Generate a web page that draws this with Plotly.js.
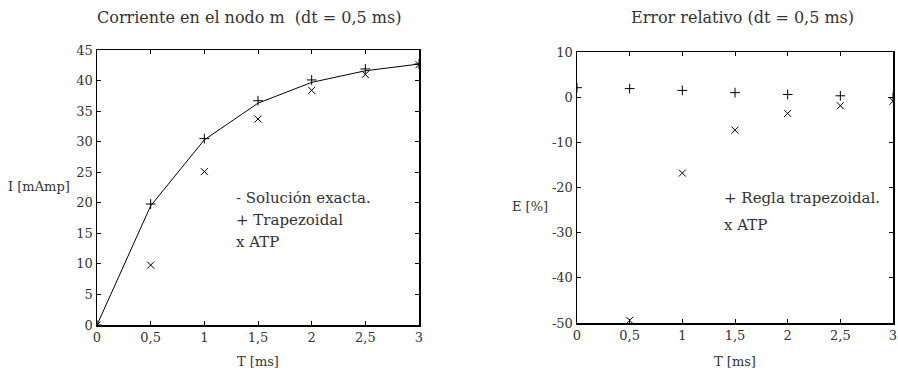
<!DOCTYPE html>
<html><head><meta charset="utf-8">
<script src="https://cdn.plot.ly/plotly-3.0.1.min.js"></script>
<style>body{margin:0;background:#fff}#p{width:898px;height:370px}</style>
</head><body><div id="p"></div>
<script>
// Data
const tExact = [0, 0.5, 1, 1.5, 2, 2.5, 3];
const iExact = [0, 19.5, 30.3, 36.3, 39.7, 41.6, 42.7];
const tTrap = [0, 0.5, 1, 1.5, 2, 2.5, 3];
const iTrap = [0, 19.8, 30.5, 36.7, 40.1, 41.9, 42.7];
const tATP = [0, 0.5, 1, 1.5, 2, 2.5, 3];
const iATP = [0, 9.8, 25.1, 33.7, 38.4, 41.0, 42.6];
const tErrTrap = [0, 0.5, 1, 1.5, 2, 2.5, 3];
const eTrap = [2.1, 1.9, 1.5, 1.0, 0.6, 0.3, -0.1];
const tErrATP = [0.5, 1, 1.5, 2, 2.5, 3];
const eATP = [-49.4, -16.8, -7.3, -3.6, -1.9, -0.9];
const xTickVals = [0, 0.5, 1, 1.5, 2, 2.5, 3];
const xTickText = ['0', '0,5', '1', '1,5', '2', '2,5', '3'];
const yLeftTicks = [0, 5, 10, 15, 20, 25, 30, 35, 40, 45];
const yRightTicks = [10, 0, -10, -20, -30, -40, -50];
const yRightText = ['10', '0', '-10', '-20', '-30', '-40', '-50'];
const legendLeft = ['- Solución exacta.', '+ Trapezoidal', 'x ATP'];
const legendRight = ['+ Regla trapezoidal.', 'x ATP'];

const F = 'DejaVu Serif';
const mk = (sym) => ({symbol: sym, size: 7, color: 'rgba(0,0,0,0)', line: {color: '#000', width: 1}});
const traces = [
  {x: tExact, y: iExact, mode: 'lines', line: {color: '#000', width: 1}, xaxis: 'x', yaxis: 'y'},
  {x: tTrap, y: iTrap, mode: 'markers', marker: mk('cross-thin'), xaxis: 'x', yaxis: 'y'},
  {x: tATP, y: iATP, mode: 'markers', marker: mk('x-thin'), xaxis: 'x', yaxis: 'y'},
  {x: tErrTrap, y: eTrap, mode: 'markers', marker: mk('cross-thin'), xaxis: 'x2', yaxis: 'y2'},
  {x: tErrATP, y: eATP, mode: 'markers', marker: mk('x-thin'), xaxis: 'x2', yaxis: 'y2'}
];
const ax = {
  showgrid: false, zeroline: false, showline: true, linecolor: '#000', linewidth: 1.5,
  mirror: 'ticks', ticks: 'inside', ticklen: 4, tickcolor: '#000', tickwidth: 1,
  tickfont: {family: F, size: 13, color: '#333'}, fixedrange: true
};
const W = 898, H = 370;
const ann = (text, px, py, size, extra) => Object.assign({text, x: px/W, y: 1-py/H, xref: 'paper', yref: 'paper', xanchor: 'center', yanchor: 'middle', showarrow: false, font: {size, family: F, color: '#333'}}, extra || {});
const L = {xanchor: 'left', align: 'left'};
const annotations = [
  ann('Corriente en el nodo m  (dt = 0,5 ms)', 249, 18, 16),
  ann('Error relativo (dt = 0,5 ms)', 742, 18, 16),
  ann('T [ms]', 258, 361, 13),
  ann('T [ms]', 735, 361, 13),
  ann('I [mAmp]', 39, 187, 13),
  ann('E [%]', 530, 207, 13)
];
const leftY = [198, 220, 242], rightY = [198, 225];
legendLeft.forEach((t, i) => annotations.push(ann(t, 234, leftY[i], 15, L)));
legendRight.forEach((t, i) => annotations.push(ann(t, 722, rightY[i], 15, L)));
const layout = {
  width: W, height: H, margin: {l: 0, r: 0, t: 0, b: 0},
  paper_bgcolor: '#fff', plot_bgcolor: '#fff', showlegend: false,
  font: {family: F, color: '#333'},
  xaxis: Object.assign({}, ax, {domain: [97/W, 419/W], range: [0, 3], tickvals: xTickVals, ticktext: xTickText, anchor: 'y'}),
  yaxis: Object.assign({}, ax, {domain: [1-325/H, 1-50/H], range: [0, 45], tickvals: yLeftTicks, anchor: 'x'}),
  xaxis2: Object.assign({}, ax, {domain: [577/W, 893/W], range: [0, 3], tickvals: xTickVals, ticktext: xTickText, anchor: 'y2'}),
  yaxis2: Object.assign({}, ax, {domain: [1-323/H, 1-52/H], range: [-50, 10], tickvals: yRightTicks, ticktext: yRightText, anchor: 'x2'}),
  annotations
};
Plotly.newPlot('p', traces, layout, {displayModeBar: false, staticPlot: true});
</script></body></html>
